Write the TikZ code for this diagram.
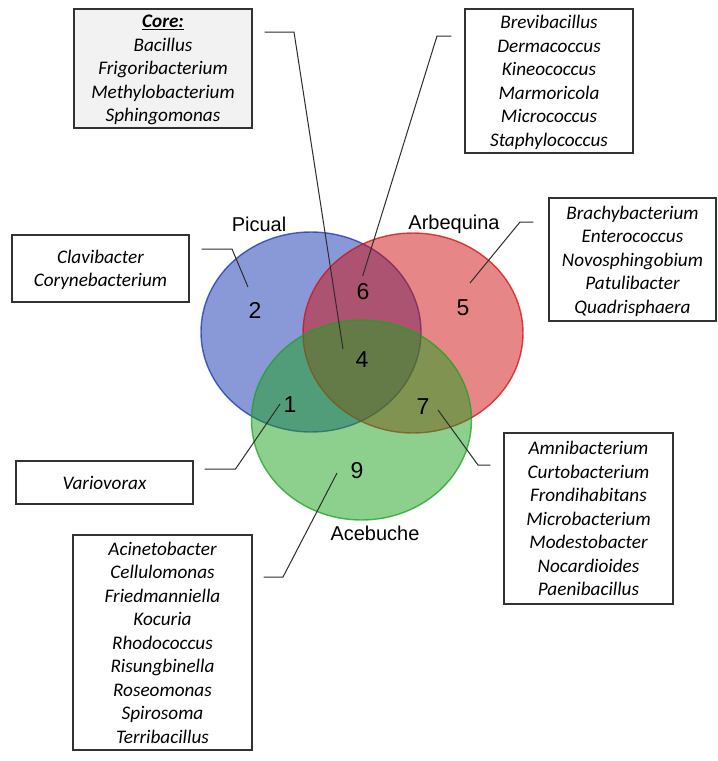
\documentclass[tikz,border=0pt]{standalone}
\usepackage{fontspec}
\setmainfont{Liberation Sans}
\newfontfamily\boxfont{Carlito}
\usetikzlibrary{shapes.geometric}
\definecolor{vblue}{RGB}{21,53,177}
\definecolor{vred}{RGB}{209,15,15}
\definecolor{vgreen}{RGB}{29,161,29}
\definecolor{boxline}{RGB}{50,50,50}
\definecolor{conn}{RGB}{45,45,45}
\definecolor{coregray}{RGB}{242,242,242}
\begin{document}
\begin{tikzpicture}[x=1pt,y=-1pt,
  setellipse/.style={ellipse,minimum width=220pt,minimum height=200pt,inner sep=0pt,
     fill opacity=0.5,draw opacity=0.75,line width=1.4pt},
  genbox/.style={draw=boxline,line width=1.2pt,fill=white,inner sep=0pt,align=center,text depth=0pt,
     font={\boxfont\itshape\fontsize{19.2}{23.5}\selectfont}},
  numlab/.style={font=\fontsize{23}{26}\selectfont,inner sep=0pt},
  setlab/.style={font=\fontsize{20}{24}\selectfont,inner sep=0pt},
  leader/.style={draw=conn,line width=1pt}]
\useasboundingbox (0,0) rectangle (718,761);
\fill[white] (0,0) rectangle (718,761);

% sets
\node[setellipse,fill=vblue,draw=vblue] (picual) at (311,332) {};
\node[setellipse,fill=vred,draw=vred] (arbequina) at (413,333) {};
\node[setellipse,fill=vgreen,draw=vgreen] (acebuche) at (361.5,420) {};

\node[setlab] (lpicual) at (259,224) {Picual};
\node[setlab] (larbequina) at (454,224) {Arbequina};
\node[setlab] (lacebuche) at (375,533) {Acebuche};

% counts
\node[numlab] (n2) at (255,310) {2};
\node[numlab] (n6) at (363,292) {6};
\node[numlab] (n5) at (463,308) {5};
\node[numlab] (n4) at (362,360) {4};
\node[numlab] (n1) at (290,405) {1};
\node[numlab] (n7) at (423,407) {7};
\node[numlab] (n9) at (357,471) {9};

% boxes
\node[genbox,fill=coregray,minimum width=178pt,minimum height=119pt] (core) at (163,68.5)
  {\underline{\textbf{Core:}}\\Bacillus\\Frigoribacterium\\Methylobacterium\\Sphingomonas};
\node[genbox,minimum width=168pt,minimum height=144pt] (g6) at (549,81)
  {Brevibacillus\\Dermacoccus\\Kineococcus\\Marmoricola\\Micrococcus\\Staphylococcus};
\node[genbox,minimum width=177pt,minimum height=67pt] (g2) at (100.5,268.5)
  {Clavibacter\\Corynebacterium};
\node[genbox,minimum width=167pt,minimum height=123pt] (g5) at (632.5,259.5)
  {Brachybacterium\\Enterococcus\\Novosphingobium\\Patulibacter\\Quadrisphaera};
\node[genbox,minimum width=177pt,minimum height=43pt] (g1) at (104.5,482.5)
  {Variovorax};
\node[genbox,minimum width=169pt,minimum height=171pt] (g7) at (588.5,518.5)
  {Amnibacterium\\Curtobacterium\\Frondihabitans\\Microbacterium\\Modestobacter\\Nocardioides\\Paenibacillus};
\node[genbox,minimum width=179pt,minimum height=215pt] (g9) at (162.5,642.5)
  {Acinetobacter\\Cellulomonas\\Friedmanniella\\Kocuria\\Rhodococcus\\Risungbinella\\Roseomonas\\Spirosoma\\Terribacillus};

% leader corners and tips
\coordinate (c4a) at (294,32);   \coordinate (c4) at (343,349);
\coordinate (c6a) at (437,36);   \coordinate (c6) at (362.7,276);
\coordinate (c2a) at (232,249);  \coordinate (c2) at (248,287);
\coordinate (c5a) at (520,222);  \coordinate (c5) at (470,283);
\coordinate (c1a) at (235.5,469);\coordinate (c1) at (280,404);
\coordinate (c7a) at (478,465);  \coordinate (c7) at (438,410);
\coordinate (c9a) at (283,577);  \coordinate (c9) at (337,473);

\draw[leader,shorten <=12pt] (core.east |- c4a) -- (c4a) -- (c4);
\draw[leader,shorten <=13pt] (g6.west |- c6a) -- (c6a) -- (c6);
\draw[leader,shorten <=12pt] (g2.east |- c2a) -- (c2a) -- (c2);
\draw[leader,shorten <=15pt] (g5.west |- c5a) -- (c5a) -- (c5);
\draw[leader,shorten <=11pt] (g1.east |- c1a) -- (c1a) -- (c1);
\draw[leader,shorten <=13pt] (g7.west |- c7a) -- (c7a) -- (c7);
\draw[leader,shorten <=11pt] (g9.east |- c9a) -- (c9a) -- (c9);
\end{tikzpicture}
\end{document}
